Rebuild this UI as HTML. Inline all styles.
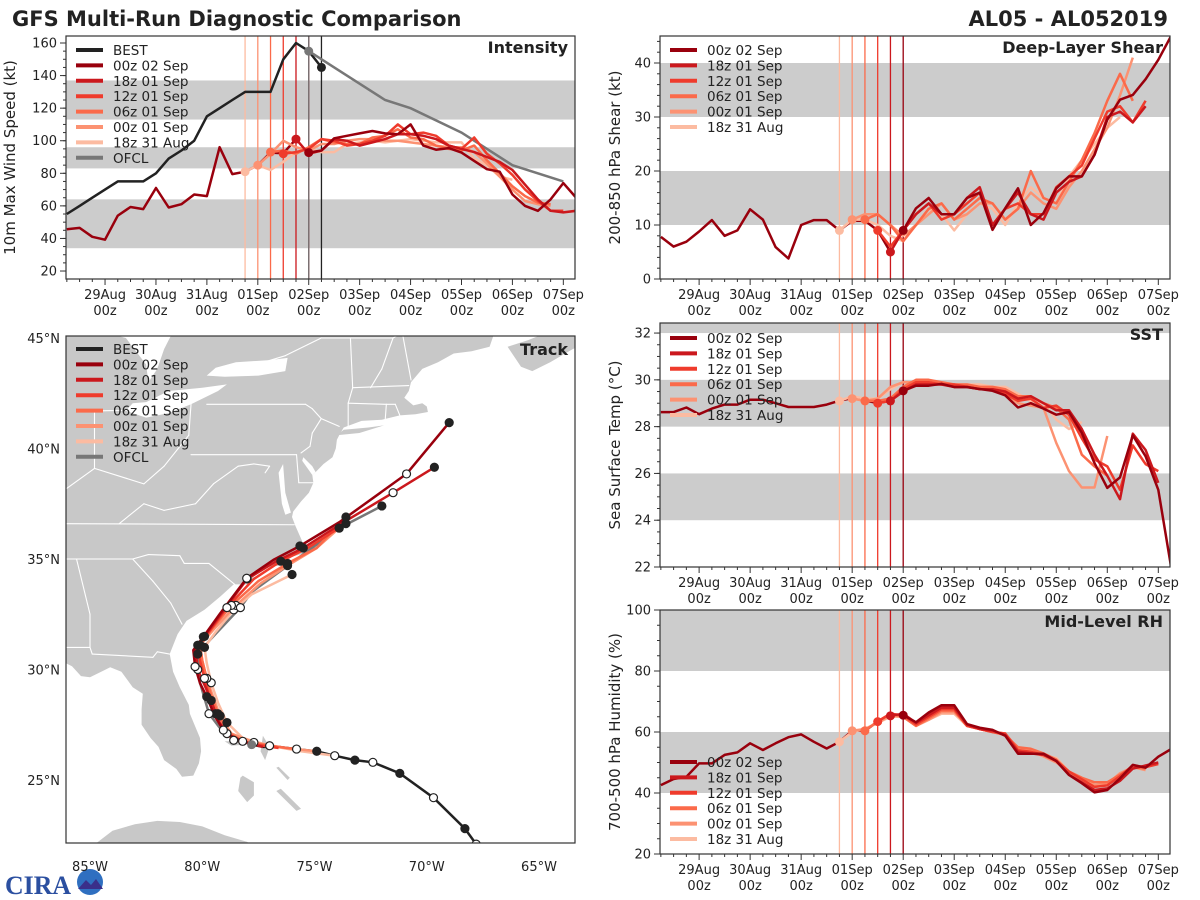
<!DOCTYPE html>
<html><head><meta charset="utf-8">
<style>
html,body{margin:0;padding:0;background:#fff;}
svg{display:block;font-family:"DejaVu Sans","Liberation Sans",sans-serif;}
</style></head>
<body>
<svg id="chart" width="1200" height="900" viewBox="0 0 1200 900" xmlns="http://www.w3.org/2000/svg">
<defs>
<clipPath id="c1"><rect x="66" y="36" width="509" height="243"/></clipPath>
<clipPath id="c2"><rect x="660" y="36" width="510" height="243"/></clipPath>
<clipPath id="c3"><rect x="660" y="323" width="510" height="244"/></clipPath>
<clipPath id="c4"><rect x="660" y="610" width="510" height="244"/></clipPath>
<clipPath id="cm"><rect x="66" y="336" width="509" height="507"/></clipPath>
</defs>
<text x="12" y="26" font-size="21" font-weight="bold" fill="#222">GFS Multi-Run Diagnostic Comparison</text>
<text x="1168" y="26" font-size="21" font-weight="bold" fill="#222" text-anchor="end">AL05 - AL052019</text>
<g>
<text x="5" y="894" font-size="26" font-weight="bold" fill="#2b4fa0" font-family="Liberation Serif, serif" textLength="66" lengthAdjust="spacingAndGlyphs">CIRA</text>
<circle cx="90" cy="882" r="13" fill="#2f6fc0"/>
<path d="M78,889 L86,880 L91,885 L96,879 L103,889 Z" fill="#3a2f8a"/>
</g>
</svg>
<script>
// ---------- time axis ----------
const dayLabels = ["29Aug","30Aug","31Aug","01Sep","02Sep","03Sep","04Sep","05Sep","06Sep","07Sep"];
const runNames = ["00z 02 Sep","18z 01 Sep","12z 01 Sep","06z 01 Sep","00z 01 Sep","18z 31 Aug"];
const runInit = [96, 90, 84, 78, 72, 66];
const runColors = ["#99000d","#cb181d","#ef3b2c","#fb6a4a","#fc9272","#fcbba1"];

// ---------- intensity (kt) ----------
const intHistory = [45.7,46.5,41,39.2,54,59.3,58,71,59,61,67,66,96,79.5,81,85,92.7,92.3,101];
const intRun00z02 = [92.7,94,101.5,103,104.5,106,104.5,104,110,97,94.5,95.5,92.7,87.6,82.5,81,67,60,57,64,74,65];
const intRun18z01 = [101,92,94,101,100,97,99,101,104,104,103,101,97,95,93,90,87,82,73,64,57,56,57];
const intRun12z01 = [92,93,95,101,100,97,98,100,103,110,104,105,103,97,95,102,92,86,79,70,63,57,57];
const intRun06z01 = [93,94,92,96,101,99,98,98,102,103,107,102,101,97,95,94,97,88,80,72,66,62,61];
const intRun00z01 = [85,92,100,96,94,98,98,100,101,101,100,100,99,98,97,96,96,93,86,78,70,63,61,60];
const intRun18z31 = [81,85,82,87,93,95,93,93,98,99,100,99,100,101,100,99,99,99,89,85,78,76];
const bestVals = [55,60,65,70,75,75,75,80,89,94,100,115,120,125,130,130,130,150,160,155,145];
const ofclTimes = [96,108,120,132,144,168,192,216];
const ofclVals = [155,145,135,125,120,105,85,75];

// ---------- shear (kt) ----------
const shrHistory = [7.8,6.0,6.9,8.8,10.9,8.0,9.0,12.9,11.0,5.9,3.8,10.0,10.9,10.9,9.0,10.8,10.8,9.0,5.0];
const shrRun00z02 = [9,13.1,15,12,12,15,16,9.1,13.1,16.8,10,12.2,16.8,19,19,23,29.5,33.2,34.1,37,40.6,45];
const shrRun18z01 = [5,9,12,14,12,12,15,17,10,13,16,12,11,16,18,19,23,30,31,29,32];
const shrRun12z01 = [9,6,9,12,14,11,12,14,16,10,13,14,12,12,17,19,21,26,31,32,29,33];
const shrRun06z01 = [11,12,10,7,10,13,14,11,13,15,14,11,13,20,15,14,18,22,27,33,38,33];
const shrRun00z01 = [11,12,12,10,8,10,12,14,11,12,14,14,11,13,16,14,13,17,20,24,28,34,41];
const shrRun18z31 = [9,11,11,10,8,7,10,13,12,9,12,14,13,10,14,17,15,14,19,22,25,28,30];

// ---------- SST (C) ----------
const sstHistory = [28.62,28.62,28.82,28.53,28.77,28.94,28.94,29.15,29.15,29.0,28.84,28.84,28.84,28.94,29.11,29.22,29.12,29.0,29.11];
const sstRun00z02 = [29.53,29.75,29.75,29.83,29.69,29.69,29.61,29.53,29.34,28.82,29.0,28.77,28.51,28.62,27.73,26.44,25.38,25.83,27.63,26.73,25.3,22.0];
const sstRun18z01 = [29.1,29.5,29.8,29.8,29.8,29.7,29.7,29.6,29.6,29.5,29.2,29.3,29.0,28.7,28.7,27.9,26.8,25.9,24.9,27.7,27.0,25.6];
const sstRun12z01 = [29.0,29.1,29.6,29.9,29.9,29.8,29.8,29.7,29.6,29.6,29.4,29.1,29.2,28.8,28.9,28.5,27.5,26.6,26.3,25.3,27.2,26.4,26.1];
const sstRun06z01 = [29.1,29.1,29.2,29.7,30.0,30.0,29.9,29.8,29.8,29.7,29.7,29.6,29.3,29.3,29.0,28.8,28.3,26.8,26.3,25.9];
const sstRun00z01 = [29.2,29.1,29.2,29.7,29.9,29.9,29.9,29.8,29.8,29.7,29.7,29.6,29.4,29.0,28.9,28.8,27.3,26.1,25.4,25.4,27.6];
const sstRun18z31 = [29.1,29.3,29.2,29.2,29.6,29.9,29.9,29.9,29.9,29.8,29.8,29.8,29.7,29.7,29.4,29.1,29.0,28.3,27.9,28.2];

// ---------- RH (%) ----------
const rhHistory = [42.6,44.6,45.3,49.7,49.7,52.5,53.3,56.3,54.1,56.3,58.3,59.2,56.8,54.6,56.8,60.4,60.4,63.4,65.3];
const rhRun00z02 = [65.5,63.2,66.4,68.8,68.8,62.6,61.4,60.7,58.8,52.9,52.9,52.9,50.5,45.9,43.2,40.2,41.0,44.8,49.2,48.3,51.9,54.4];
const rhRun18z01 = [65.3,66,63,65.5,68,68,62.5,61,60.5,59,53.5,53,52.5,50.5,46,43.5,41,41.5,44,48,49,50];
const rhRun12z01 = [63.4,66,65.5,62.5,65,67.5,67.5,62,61,60,59.5,54,53.5,52.5,50.5,47,44.5,42,42.5,45.5,49,48.5,49.5];
const rhRun06z01 = [60.4,63.5,66,65,62,64.5,67,67,62,61,60,59,55,54.5,53,51,47,45,43.5,43.5,46,48.5,48];
const rhRun00z01 = [60.4,61,63,65.5,65,62,64,66.5,66.5,62.5,61,60,59.5,54.5,54,52,50,47,45,42.5,43,46.5,48.5,47.5];
const rhRun18z31 = [56.8,60,61,63,65,65,62,64,66,66,62,61,60,59,54,53.5,52,51.5,47,44,42,43,46,48];

// ---------- track (lon, lat) ----------
const bestLon = [-67.4,-67.8,-68.3,-69.7,-71.2,-72.4,-73.2,-74.1,-74.9,-75.8,-76.6,-77.3,-77.8];
const bestLat = [21.6,22.1,22.8,24.2,25.3,25.8,25.9,26.1,26.3,26.4,26.5,26.5,26.6];
const trk00z02Lon = [-77.8,-78.6,-79.06,-79.43,-79.8,-80.1,-80.32,-80.4,-79.95,-79.2,-78.02,-76.83,-75.65,-73.86,-70.9,-69.0];
const trk00z02Lat = [26.6,26.9,27.26,27.87,28.77,29.38,30.13,30.88,31.48,32.54,34.13,34.96,35.59,36.69,38.85,41.17];
const trk18z01Lon = [-77.3,-78.2,-78.9,-79.3,-79.6,-79.9,-80.2,-80.3,-79.9,-79.1,-78.0,-76.7,-75.5,-73.8,-71.5,-69.66];
const trk18z01Lat = [26.5,26.75,27.1,27.7,28.6,29.3,30.0,30.9,31.5,32.6,34.1,34.9,35.5,36.6,38.0,39.15];
const trk12z01Lon = [-76.6,-77.6,-78.6,-79.1,-79.4,-79.7,-79.9,-80.1,-80.2,-79.7,-78.9,-77.7,-76.5,-75.3,-73.6];
const trk12z01Lat = [26.45,26.6,26.8,27.3,28.0,28.8,29.6,30.4,31.1,31.7,32.8,34.1,34.9,35.5,36.6];
const trk06z01Lon = [-75.8,-77.0,-78.2,-78.9,-79.3,-79.6,-79.8,-80.0,-80.1,-79.6,-78.7,-77.5,-76.2,-74.9,-73.6];
const trk06z01Lat = [26.4,26.55,26.75,27.2,28.0,28.8,29.6,30.4,31.1,31.8,32.9,34.0,34.8,35.5,36.9];
const trk00z01Lon = [-74.9,-76.3,-77.7,-78.7,-79.2,-79.5,-79.8,-80.0,-80.1,-79.5,-78.5,-77.4,-76.2,-74.9,-73.9];
const trk00z01Lat = [26.3,26.45,26.7,27.1,27.9,28.7,29.6,30.4,31.1,31.8,32.9,33.9,34.7,35.5,36.4];
const trk18z31Lon = [-74.1,-75.6,-77.0,-78.2,-78.9,-79.3,-79.6,-79.8,-79.9,-79.4,-78.6,-77.8,-76.0];
const trk18z31Lat = [26.1,26.3,26.55,26.9,27.6,28.5,29.4,30.3,31.0,31.7,32.7,33.4,34.3];
const ofclLon = [-77.8,-79.1,-79.7,-80.1,-80.2,-79.6,-78.3,-77.8,-73.9,-72.0];
const ofclLat = [26.6,27.2,28.0,29.4,30.7,31.4,32.8,33.5,36.4,37.4];

// ---------- geography ----------
const landMain = [[-67,45.2],[-67.2,44.6],[-68,44.4],[-68.8,44.3],[-69.5,43.9],[-70.2,43.6],[-70.7,43.0],[-70.8,42.6],[-71.0,42.3],[-70.6,41.95],[-70.2,42.05],[-70.0,41.9],[-69.95,41.65],[-70.5,41.55],[-71.2,41.5],[-72.0,41.3],[-72.9,41.25],[-73.7,40.95],[-73.9,40.6],[-74.0,40.4],[-74.05,40.0],[-74.2,39.6],[-74.6,39.3],[-74.95,38.93],[-75.1,38.8],[-75.05,38.45],[-75.25,38.0],[-75.6,37.6],[-75.95,37.15],[-76.0,36.9],[-75.85,36.5],[-75.55,35.8],[-75.5,35.25],[-76.0,35.1],[-76.5,34.7],[-77.1,34.65],[-77.7,34.2],[-77.95,33.85],[-78.6,33.85],[-79.2,33.3],[-79.9,32.7],[-80.7,32.2],[-81.1,31.6],[-81.45,30.7],[-81.3,29.9],[-81.0,29.2],[-80.6,28.4],[-80.55,28.0],[-80.1,26.9],[-80.05,26.3],[-80.15,25.75],[-80.4,25.2],[-80.9,25.15],[-81.15,25.5],[-81.7,25.9],[-81.95,26.5],[-82.3,26.9],[-82.7,27.5],[-82.7,28.2],[-82.65,28.9],[-83.1,29.2],[-83.6,29.9],[-84.1,30.1],[-84.4,29.95],[-85.0,29.65],[-85.4,29.7],[-85.8,30.15],[-86.3,30.4],[-86.3,45.3],[-67,45.3]];
const landInterior = [[-86.3,45.3],[-71.5,45.3],[-71.5,42.5],[-74.5,41.0],[-75.6,39.3],[-76.5,37.5],[-77.5,35.0],[-79.5,33.6],[-81.8,31.0],[-82.0,30.0],[-83.5,30.3],[-86.3,30.6]];
const chesapeake = [[-76.05,37.1],[-76.3,38.0],[-76.4,39.3],[-76.6,38.9],[-76.45,37.5],[-76.3,37.0]];
const delawareBay = [[-74.95,38.93],[-75.1,39.2],[-75.5,39.6],[-75.55,39.45],[-75.1,38.8]];
const landNovaScotia = [[-66.4,44.6],[-65.8,43.7],[-65.3,43.5],[-64.5,43.9],[-63.5,44.5],[-63.0,44.7],[-63.0,45.3],[-64.5,45.3],[-65.5,44.9]];
const landLongIsland = [[-74.0,40.6],[-73.0,40.7],[-71.9,41.05],[-72.6,40.95],[-73.7,40.85]];
const landCuba = [[-85.2,21.8],[-84.9,22.0],[-84.0,22.7],[-83.0,23.0],[-82.0,23.15],[-81.0,23.1],[-80.0,22.9],[-79.0,22.5],[-78.0,22.2],[-77.2,21.6],[-77,21.5],[-85.2,21.5]];
const landAndros = [[-78.2,25.2],[-77.7,24.9],[-77.7,24.3],[-78.0,24.0],[-78.4,24.5],[-78.3,25.1]];
const landGrandBahama = [[-79.0,26.75],[-78.2,26.75],[-77.9,26.62],[-78.7,26.55]];
const landAbaco = [[-77.3,27.0],[-77.0,26.5],[-77.2,25.9],[-77.4,26.3]];
const landEleuthera = [[-76.7,25.55],[-76.2,25.0],[-76.1,25.1],[-76.6,25.6]];
const landExuma = [[-76.7,24.5],[-75.8,23.6],[-75.6,23.7],[-76.5,24.6]];
const lakeOntario = [[-79.8,43.3],[-79.0,43.25],[-77.5,43.3],[-76.3,43.5],[-76.2,44.1],[-77,44.0],[-78.5,43.9],[-79.4,43.65]];
const lakeErie = [[-83.4,41.7],[-82.5,41.4],[-81.5,41.6],[-80.5,42.0],[-79.3,42.6],[-78.9,42.9],[-80.0,42.75],[-81.5,42.6],[-82.5,42.1],[-83.1,42.05]];
const lakeHuron = [[-84.5,45.3],[-83.4,45.0],[-82.5,43.8],[-82.4,43.0],[-82.0,43.6],[-81.7,44.5],[-81.3,45.3]];
const borders = [
 [[-86.3,36.6],[-75.9,36.55]],
 [[-84.3,35.0],[-83.1,35.0],[-82.4,35.2],[-81,35.15],[-80.8,34.8],[-79.7,34.8],[-78.55,33.85]],
 [[-83.1,35.0],[-82.2,34.0],[-81.4,33.0],[-80.9,32.05]],
 [[-85.0,31.0],[-84.9,30.7],[-82.2,30.55],[-82.0,30.8],[-81.45,30.7]],
 [[-85.6,35.0],[-85.0,32.5],[-85.0,31.0]],
 [[-87.6,31.0],[-85,31.0]],
 [[-86.3,35.0],[-84.3,35.0]],
 [[-83.7,36.6],[-82.6,37.5],[-81.7,37.2],[-80.3,37.5],[-79.5,38.4],[-78.4,39.2],[-77.7,39.3]],
 [[-80.5,39.72],[-75.8,39.72]],
 [[-82.6,38.4],[-81.7,39.2],[-80.6,40.6],[-80.5,42.0]],
 [[-79.8,42.0],[-75.4,42.0],[-75.1,41.8],[-74.7,41.35],[-75.1,40.7],[-75.2,40.1],[-75.6,39.8]],
 [[-74.7,41.35],[-73.9,41.0]],
 [[-73.5,41.0],[-73.5,42.05],[-73.3,42.75],[-73.4,45.0]],
 [[-73.5,42.05],[-71.8,42.0],[-71.4,42.0],[-71.2,41.5]],
 [[-71.8,42.0],[-71.85,41.3]],
 [[-72.5,42.75],[-72.0,43.6],[-71.5,45.0]],
 [[-73.3,42.75],[-70.8,42.85]],
 [[-71.1,45.3],[-70.7,43.1]],
 [[-86.3,38.0],[-84.8,39.1],[-82.6,38.4]],
 [[-84.8,39.1],[-84.8,41.7],[-83.4,41.73]],
 [[-79.2,43.3],[-76.3,44.2],[-74.7,45.0],[-71.5,45.0],[-71.0,45.3]],
 [[-75.8,39.72],[-75.7,38.45],[-75.05,38.45]],
 [[-77.2,38.9],[-77.0,39.2],[-77.7,39.3]]
];

// ---------- helpers ----------
const NS = "http://www.w3.org/2000/svg";
const svg = document.getElementById("chart");
function mk(tag, attrs, parent){
  const e = document.createElementNS(NS, tag);
  for (const k in attrs) e.setAttribute(k, attrs[k]);
  (parent || svg).appendChild(e);
  return e;
}
const T0 = -18.4, T1 = 221.5;
function tx(t, p){ return p.x0 + (t - T0) / (T1 - T0) * (p.x1 - p.x0); }
function vy(v, p){ return p.y1 - (v - p.vmin) / (p.vmax - p.vmin) * (p.y1 - p.y0); }
function seriesPts(t0, vals, p){ return vals.map((v,i)=> tx(t0 + 6*i, p).toFixed(1) + "," + vy(v, p).toFixed(1)).join(" "); }

const panels = [
 {id:"intensity", x0:66, x1:575, y0:36, y1:279, vmin:15.1, vmax:164.3, clip:"c1", title:"Intensity", ytitle:"10m Max Wind Speed (kt)", ytx:15,
  major:[20,40,60,80,100,120,140,160], minorStep:5, bands:[[34,64],[83,96],[113,137]],
  hist:intHistory, runs:[intRun00z02,intRun18z01,intRun12z01,intRun06z01,intRun00z01,intRun18z31], legendY:50, withBest:true},
 {id:"shear", x0:660, x1:1170, y0:36, y1:279, vmin:0, vmax:45, clip:"c2", title:"Deep-Layer Shear", ytitle:"200-850 hPa Shear (kt)", ytx:620,
  major:[0,10,20,30,40], minorStep:2, bands:[[10,20],[30,40]],
  hist:shrHistory, runs:[shrRun00z02,shrRun18z01,shrRun12z01,shrRun06z01,shrRun00z01,shrRun18z31], legendY:50},
 {id:"sst", x0:660, x1:1170, y0:323, y1:567, vmin:22, vmax:32.43, clip:"c3", title:"SST", ytitle:"Sea Surface Temp (°C)", ytx:620,
  major:[22,24,26,28,30,32], minorStep:0.5, bands:[[24,26],[28,30],[32,33]],
  hist:sstHistory, runs:[sstRun00z02,sstRun18z01,sstRun12z01,sstRun06z01,sstRun00z01,sstRun18z31], legendY:338},
 {id:"rh", x0:660, x1:1170, y0:610, y1:854, vmin:20, vmax:100, clip:"c4", title:"Mid-Level RH", ytitle:"700-500 hPa Humidity (%)", ytx:620,
  major:[20,40,60,80,100], minorStep:5, bands:[[40,60],[80,100]],
  hist:rhHistory, runs:[rhRun00z02,rhRun18z01,rhRun12z01,rhRun06z01,rhRun00z01,rhRun18z31], legendY:762}
];

panels.forEach(p => {
  const g = mk("g", {});
  
  
  const cg = mk("g", {"clip-path":"url(#"+p.clip+")"}, g);
  p.bands.forEach((b,bi) => {
    const r = mk("rect", {x:p.x0, y:vy(Math.min(b[1],p.vmax),p), width:p.x1-p.x0, height:vy(b[0],p)-vy(Math.min(b[1],p.vmax),p), fill:"#cccccc"}, cg);
    
    
  });
  for (let i = runInit.length-1; i >= 0; i--) {
    const x = tx(runInit[i], p);
    const l = mk("line", {x1:x, x2:x, y1:p.y0, y2:p.y1, stroke:runColors[i], "stroke-width":1.3}, cg);
    
    
  }
  if (p.withBest) {
    const xo = tx(96, p);
    const lo = mk("line", {x1:xo, x2:xo, y1:p.y0, y2:p.y1, stroke:"#777", "stroke-width":1.3}, cg);
    
    
    const xb = tx(102, p);
    const lb = mk("line", {x1:xb, x2:xb, y1:p.y0, y2:p.y1, stroke:"#222", "stroke-width":1.3}, cg);
    
    
    const bl = mk("polyline", {points:seriesPts(-18, bestVals, p), fill:"none", stroke:"#222", "stroke-width":2.5, "stroke-linejoin":"round"}, cg);
    
    
    const op = ofclTimes.map((t,i)=> tx(t,p).toFixed(1)+","+vy(ofclVals[i],p).toFixed(1)).join(" ");
    const ol = mk("polyline", {points:op, fill:"none", stroke:"#777", "stroke-width":2.5}, cg);
    
    
  }
  const h = mk("polyline", {points:seriesPts(-18, p.hist, p), fill:"none", stroke:runColors[0], "stroke-width":2.5, "stroke-linejoin":"round"}, cg);
  
  
  for (let i = p.runs.length-1; i >= 0; i--) {
    const pl = mk("polyline", {points:seriesPts(runInit[i], p.runs[i], p), fill:"none", stroke:runColors[i], "stroke-width":2.5, "stroke-linejoin":"round"}, cg);
    
    
  }
  for (let i = p.runs.length-1; i >= 0; i--) {
    const d = mk("circle", {cx:tx(runInit[i],p), cy:vy(p.runs[i][0],p), r:4.5, fill:runColors[i]}, cg);
    
    
  }
  if (p.withBest) {
    const od = mk("circle", {cx:tx(96,p), cy:vy(ofclVals[0],p), r:4.5, fill:"#777"}, cg);
    
    
    const bd = mk("circle", {cx:tx(102,p), cy:vy(bestVals[bestVals.length-1],p), r:4.5, fill:"#222"}, cg);
    
    
  }
  const fr = mk("rect", {x:p.x0, y:p.y0, width:p.x1-p.x0, height:p.y1-p.y0, fill:"none", stroke:"#333", "stroke-width":1.2}, g);
  
  
  for (let v = p.vmin - (p.vmin % p.minorStep) ; v <= p.vmax; v += p.minorStep) {
    if (v < p.vmin) continue;
    const y = vy(v,p);
    mk("line", {x1:p.x0-3, x2:p.x0, y1:y, y2:y, stroke:"#333", "stroke-width":1}, g);
  }
  p.major.forEach(v => {
    const y = vy(v,p);
    mk("line", {x1:p.x0-6, x2:p.x0, y1:y, y2:y, stroke:"#333", "stroke-width":1}, g);
    const t = mk("text", {x:p.x0-9, y:y+4.5, "font-size":13, fill:"#222", "text-anchor":"end"}, g);
    t.textContent = v;
    
    
  });
  for (let t = -18; t <= 221; t += 6) {
    const x = tx(t,p);
    const major = (t % 24 === 0);
    mk("line", {x1:x, x2:x, y1:p.y1, y2:p.y1+(major?6:3), stroke:"#333", "stroke-width":1}, g);
  }
  dayLabels.forEach((d,i) => {
    const x = tx(24*i, p);
    const a = mk("text", {x:x, y:p.y1+20, "font-size":13, fill:"#222", "text-anchor":"middle"}, g);
    a.textContent = d;
    
    
    const b = mk("text", {x:x, y:p.y1+36, "font-size":13, fill:"#222", "text-anchor":"middle"}, g);
    b.textContent = "00z";
    
    
  });
  const yt = mk("text", {x:0, y:0, "font-size":15, fill:"#222", "text-anchor":"middle", transform:"translate("+p.ytx+","+((p.y0+p.y1)/2)+") rotate(-90)"}, g);
  yt.textContent = p.ytitle;
  
  
  const tt = mk("text", {x:p.x1-7, y:p.y0+17, "font-size":16, "font-weight":"bold", fill:"#222", "text-anchor":"end"}, g);
  tt.textContent = p.title;
  
  
  const entries = [];
  if (p.withBest) entries.push(["BEST","#222"]);
  runNames.forEach((n,i)=>entries.push([n, runColors[i]]));
  if (p.withBest) entries.push(["OFCL","#777"]);
  drawLegend(g, entries, p.x0+10, p.legendY, p.id);
});

function drawLegend(g, entries, x, y0, id){
  const lg = mk("g", {}, g);
  
  
  entries.forEach((e,i) => {
    const y = y0 + i*15.4;
    const ln = mk("line", {x1:x, x2:x+27, y1:y, y2:y, stroke:e[1], "stroke-width":4}, lg);
    
    
    const tx2 = mk("text", {x:x+37, y:y+5, "font-size":13.5, fill:"#222"}, lg);
    tx2.textContent = e[0];
    
    
  });
}

// ---------- track map ----------
const M = {x0:66, x1:575, y0:336, y1:843};
function lx(lon){ return 90 + (lon + 85) * 22.45; }
function ly(lat){ return 338 + (45 - lat) * 22.1; }
function ptsLL(arr){ return arr.map(p => lx(p[0]).toFixed(1)+","+ly(p[1]).toFixed(1)).join(" "); }
function ptsLonLat(lons, lats){ return lons.map((l,i)=> lx(l).toFixed(1)+","+ly(lats[i]).toFixed(1)).join(" "); }

const mg = mk("g", {});


const mc = mk("g", {"clip-path":"url(#cm)"}, mg);
[[landMain,'land-us'],[landInterior,'land-us-interior'],[landNovaScotia,'land-nova-scotia'],[landLongIsland,'land-long-island'],[landCuba,'land-cuba'],[landAndros,'land-andros'],[landGrandBahama,'land-grand-bahama'],[landAbaco,'land-abaco'],[landEleuthera,'land-eleuthera'],[landExuma,'land-exuma']].forEach(a => {
  const pg = mk("polygon", {points:ptsLL(a[0]), fill:"#c8c8c8", stroke:"none"}, mc);
  
  
});
[[lakeOntario,'lake-ontario'],[lakeErie,'lake-erie'],[lakeHuron,'lake-huron'],[chesapeake,'chesapeake-bay'],[delawareBay,'delaware-bay']].forEach(a => {
  const pg = mk("polygon", {points:ptsLL(a[0]), fill:"#fff"}, mc);
  
  
});
// state borders drawn as individual line segments (no fill possible)
borders.forEach(b => {
  for (let k = 0; k < b.length - 1; k++) {
    const sg = mk("line", {x1:lx(b[k][0]), y1:ly(b[k][1]), x2:lx(b[k+1][0]), y2:ly(b[k+1][1]), stroke:"#ffffff", "stroke-width":1.1, "stroke-linecap":"round"}, mc);
    
    
  }
});
const bt = mk("polyline", {points:ptsLonLat(bestLon,bestLat), fill:"none", stroke:"#222", "stroke-width":2.5}, mc);


const trkLons = [trk00z02Lon,trk18z01Lon,trk12z01Lon,trk06z01Lon,trk00z01Lon,trk18z31Lon];
const trkLats = [trk00z02Lat,trk18z01Lat,trk12z01Lat,trk06z01Lat,trk00z01Lat,trk18z31Lat];
const ol = mk("polyline", {points:ptsLonLat(ofclLon,ofclLat), fill:"none", stroke:"#777", "stroke-width":2.5}, mc);


for (let i = 5; i >= 0; i--) {
  const pl = mk("polyline", {points:ptsLonLat(trkLons[i],trkLats[i]), fill:"none", stroke:runColors[i], "stroke-width":2.5, "stroke-linejoin":"round"}, mc);
  
  
}
function dots(lons, lats, tag){
  lons.forEach((l,i) => {
    if (i === 0 || (i % 2 !== 0 && i !== lons.length-1)) return;
    const black = (i === lons.length-1) || ((i/2) % 2 === 0);
    const c = mk("circle", {cx:lx(l), cy:ly(lats[i]), r:4, fill:black?"#222":"#fff", stroke:"#222", "stroke-width":1.2}, mc);
    
    
  });
}
for (let i = 5; i >= 0; i--) dots(trkLons[i], trkLats[i], 'track-run');
dots(ofclLon, ofclLat, 'ofcl');
bestLon.forEach((l,i) => {
  if (i > 9) return;
  const c = mk("circle", {cx:lx(l), cy:ly(bestLat[i]), r:4, fill:(i%2===0)?"#222":"#fff", stroke:"#222", "stroke-width":1.2}, mc);
  
  
});
const ocd = mk("circle", {cx:lx(ofclLon[0]), cy:ly(ofclLat[0]), r:4.5, fill:"#777"}, mc);


const mf = mk("rect", {x:M.x0, y:M.y0, width:M.x1-M.x0, height:M.y1-M.y0, fill:"none", stroke:"#333", "stroke-width":1.2}, mg);


const lonTicks = [-85,-80,-75,-70,-65];
const latTicks = [25,30,35,40,45];
lonTicks.forEach(l => {
  const t = mk("text", {x:lx(l), y:871, "font-size":13, fill:"#222", "text-anchor":"middle"}, mg);
  t.textContent = Math.abs(l) + "°W";
  
  
});
latTicks.forEach(l => {
  const t = mk("text", {x:60, y:ly(l)+5, "font-size":13, fill:"#222", "text-anchor":"end"}, mg);
  t.textContent = l + "°N";
  
  
});
const mt = mk("text", {x:568, y:355, "font-size":16, "font-weight":"bold", fill:"#222", "text-anchor":"end"}, mg);
mt.textContent = "Track";


const tEntries = [["BEST","#222"]];
runNames.forEach((n,i)=>tEntries.push([n, runColors[i]]));
tEntries.push(["OFCL","#777"]);
drawLegend(mg, tEntries, 76, 349, 'track');
</script>
</body></html>
